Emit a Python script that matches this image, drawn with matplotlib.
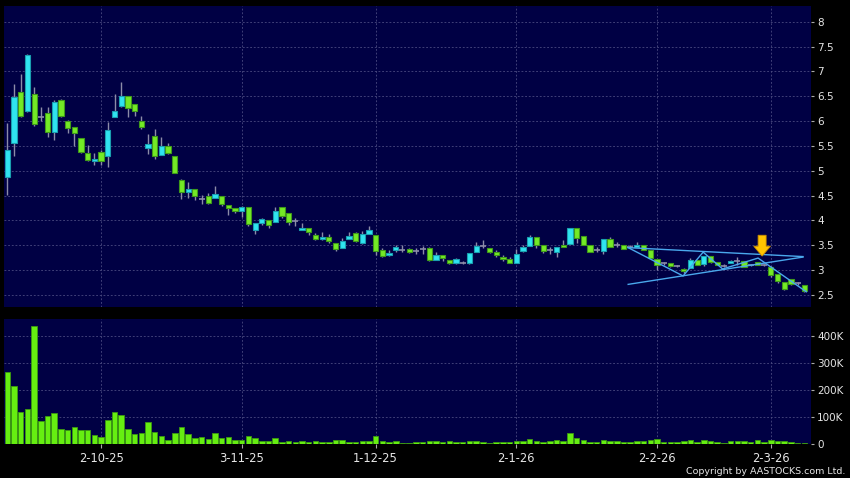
import numpy as np
import matplotlib
matplotlib.use('Agg')
import matplotlib.pyplot as plt
from matplotlib.patches import FancyArrow

# daily candles (oldest first)
opens = [4.87, 5.56, 6.58, 6.21, 6.54, 6.09, 6.16, 5.79, 6.43, 6.00,
         5.88, 5.66, 5.36, 5.19, 5.37, 5.30, 6.09, 6.30, 6.50, 6.34,
         6.01, 5.46, 5.70, 5.32, 5.50, 5.30, 4.81, 4.58, 4.64, 4.44,
         4.50, 4.45, 4.50, 4.31, 4.24, 4.19, 4.27, 3.81, 3.95, 4.01,
         3.97, 4.27, 4.15, 3.98, 3.80, 3.84, 3.71, 3.63, 3.67, 3.55,
         3.44, 3.63, 3.75, 3.55, 3.73, 3.70, 3.40, 3.30, 3.40, 3.40,
         3.42, 3.39, 3.42, 3.44, 3.21, 3.30, 3.20, 3.14, 3.15, 3.14,
         3.36, 3.48, 3.44, 3.36, 3.26, 3.22, 3.15, 3.38, 3.48, 3.67,
         3.50, 3.41, 3.36, 3.50, 3.53, 3.84, 3.68, 3.50, 3.41, 3.39,
         3.63, 3.50, 3.51, 3.46, 3.47, 3.50, 3.40, 3.22, 3.14, 3.14,
         3.09, 3.02, 3.04, 3.20, 3.13, 3.28, 3.17, 3.09, 3.14, 3.18,
         3.18, 3.11, 3.16, 3.10, 3.06, 2.91, 2.75, 2.81, 2.74, 2.70]
highs = [5.96, 6.75, 6.95, 7.36, 6.68, 6.29, 6.28, 6.43, 6.45, 6.03,
         5.89, 5.66, 5.52, 5.36, 5.42, 5.98, 6.54, 6.79, 6.50, 6.34,
         6.10, 5.75, 5.84, 5.68, 5.55, 5.30, 4.84, 4.78, 4.64, 4.52,
         4.55, 4.70, 4.50, 4.31, 4.25, 4.28, 4.27, 3.95, 4.05, 4.01,
         4.27, 4.27, 4.15, 4.05, 3.94, 3.84, 3.75, 3.77, 3.73, 3.55,
         3.64, 3.77, 3.77, 3.78, 3.89, 3.70, 3.44, 3.40, 3.50, 3.50,
         3.44, 3.44, 3.48, 3.46, 3.36, 3.30, 3.20, 3.25, 3.18, 3.34,
         3.57, 3.61, 3.44, 3.41, 3.30, 3.26, 3.42, 3.50, 3.71, 3.67,
         3.50, 3.46, 3.47, 3.60, 3.84, 3.84, 3.68, 3.50, 3.46, 3.63,
         3.67, 3.57, 3.51, 3.50, 3.57, 3.50, 3.40, 3.22, 3.17, 3.15,
         3.11, 3.03, 3.25, 3.20, 3.28, 3.28, 3.17, 3.12, 3.20, 3.26,
         3.18, 3.13, 3.16, 3.12, 3.08, 2.92, 2.75, 2.82, 2.76, 2.70]
lows = [4.52, 5.29, 6.09, 6.19, 5.90, 6.00, 5.68, 5.62, 6.08, 5.77,
        5.49, 5.36, 5.19, 5.11, 5.11, 5.07, 6.09, 6.29, 6.08, 6.11,
        5.84, 5.34, 5.23, 5.32, 5.33, 4.95, 4.44, 4.46, 4.42, 4.32,
        4.32, 4.45, 4.29, 4.10, 4.15, 4.07, 3.88, 3.72, 3.91, 3.84,
        3.97, 4.04, 3.90, 3.88, 3.80, 3.70, 3.60, 3.60, 3.55, 3.38,
        3.44, 3.62, 3.56, 3.53, 3.72, 3.31, 3.27, 3.29, 3.37, 3.37,
        3.34, 3.32, 3.32, 3.19, 3.20, 3.19, 3.12, 3.12, 3.12, 3.12,
        3.36, 3.44, 3.34, 3.27, 3.19, 3.14, 3.15, 3.37, 3.48, 3.44,
        3.34, 3.33, 3.26, 3.46, 3.53, 3.55, 3.51, 3.36, 3.36, 3.32,
        3.47, 3.46, 3.43, 3.44, 3.47, 3.41, 3.24, 3.00, 3.10, 3.06,
        3.06, 2.93, 3.04, 3.10, 3.08, 3.15, 3.10, 3.06, 3.14, 3.11,
        3.05, 3.08, 3.10, 3.08, 2.86, 2.74, 2.60, 2.70, 2.70, 2.55]
closes = [5.41, 6.48, 6.11, 7.33, 5.95, 6.09, 5.78, 6.38, 6.11, 5.86,
          5.76, 5.38, 5.21, 5.23, 5.20, 5.83, 6.20, 6.50, 6.26, 6.20,
          5.88, 5.54, 5.30, 5.50, 5.36, 4.95, 4.57, 4.63, 4.50, 4.44,
          4.35, 4.53, 4.32, 4.25, 4.18, 4.27, 3.93, 3.95, 4.03, 3.91,
          4.19, 4.08, 3.97, 3.98, 3.85, 3.76, 3.63, 3.67, 3.58, 3.42,
          3.59, 3.69, 3.58, 3.73, 3.81, 3.38, 3.28, 3.34, 3.46, 3.40,
          3.37, 3.39, 3.42, 3.20, 3.30, 3.24, 3.14, 3.22, 3.15, 3.34,
          3.48, 3.48, 3.36, 3.30, 3.22, 3.15, 3.32, 3.46, 3.67, 3.50,
          3.38, 3.41, 3.47, 3.47, 3.84, 3.64, 3.51, 3.36, 3.41, 3.63,
          3.47, 3.50, 3.43, 3.46, 3.50, 3.41, 3.24, 3.10, 3.14, 3.08,
          3.09, 2.98, 3.20, 3.11, 3.28, 3.17, 3.11, 3.09, 3.18, 3.18,
          3.06, 3.11, 3.11, 3.10, 2.89, 2.77, 2.62, 2.72, 2.74, 2.57]
volume_k = [265, 215, 117, 127, 437, 83, 101, 112, 56, 52,
            60, 52, 49, 32, 23, 88, 119, 105, 54, 35,
            41, 79, 44, 28, 12, 38, 63, 37, 22, 26,
            19, 40, 22, 26, 12, 12, 28, 20, 9, 9,
            20, 6, 11, 6, 10, 6, 9, 5, 7, 14,
            15, 7, 6, 9, 9, 30, 11, 6, 9, 4,
            4, 6, 6, 10, 10, 5, 11, 7, 5, 9,
            9, 7, 1, 6, 6, 6, 10, 10, 16, 9,
            7, 9, 12, 11, 38, 22, 15, 7, 7, 15,
            9, 9, 7, 6, 9, 11, 14, 17, 5, 5,
            6, 11, 14, 5, 14, 9, 5, 2, 9, 9,
            9, 5, 12, 5, 15, 11, 11, 6, 4, 2]

date_labels = ['2-10-25', '3-11-25', '1-12-25', '2-1-26', '2-2-26', '2-3-26']
date_idx = [14, 35, 55, 76, 97, 114]

# drawn pattern lines (bar index, price)
upper_x, upper_y = [92.7, 118.8], [3.45, 3.27]
lower_x, lower_y = [92.7, 118.8], [2.71, 3.26]
zig_x = [92.7, 100.9, 103.9, 106.8, 112.1, 119.3]
zig_y = [3.45, 2.88, 3.36, 3.02, 3.24, 2.56]
arrow_x, arrow_top, arrow_tip = 112.7, 3.70, 3.28

BG = '#000044'
GRID = '#4a4a80'
UP, UP_EDGE = '#30e4f0', '#1a9fb0'
DOWN, DOWN_EDGE = '#74ea26', '#3f9a1a'
WICK = '#8c8ca8'
TXT = '#e6e6e6'

o = np.array(opens); h = np.array(highs); l = np.array(lows); c = np.array(closes)
x = np.arange(len(o))

fig = plt.figure(figsize=(8.5, 4.78), dpi=100, facecolor='black')
ax = fig.add_axes([4/850, 1 - 306.7/478, 807/850, 300.7/478])
ax2 = fig.add_axes([4/850, 1 - 443.7/478, 807/850, 124.4/478], sharex=ax)

for a in (ax, ax2):
    a.set_facecolor(BG)
    for s in a.spines.values():
        s.set_visible(False)
    a.yaxis.tick_right()
    a.tick_params(axis='y', colors='#aaaaaa', labelcolor=TXT, labelsize=7.5,
                  length=2.5, width=0.8, pad=2)
    a.grid(True, color=GRID, linestyle=(0, (2.2, 2.2)), linewidth=0.6)
    a.set_axisbelow(True)

# wicks
ax.vlines(x, l, h, color=WICK, linewidth=1.0, zorder=2)
up = c > o
dn = c < o
dj = c == o
ax.bar(x[up], (c - o)[up], bottom=o[up], width=0.78, color=UP,
       edgecolor=UP_EDGE, linewidth=0.8, zorder=3)
ax.bar(x[dn], (o - c)[dn], bottom=c[dn], width=0.78, color=DOWN,
       edgecolor=DOWN_EDGE, linewidth=0.8, zorder=3)
ax.hlines(c[dj], x[dj] - 0.45, x[dj] + 0.45, color=WICK, linewidth=1.2, zorder=3)

lc = '#4aa8ec'
ax.plot(upper_x, upper_y, color=lc, lw=1.0, zorder=4)
ax.plot(lower_x, lower_y, color=lc, lw=1.0, zorder=4)
ax.plot(zig_x, zig_y, color=lc, lw=1.0, zorder=4)
ax.add_patch(FancyArrow(arrow_x, arrow_top, 0, arrow_tip - arrow_top,
                        width=1.2, head_width=2.5, head_length=0.2,
                        length_includes_head=True, facecolor='#ffc400',
                        edgecolor='#c88a00', linewidth=0.6, zorder=5))

ax.set_xlim(-0.5, 120)
ax.set_ylim(2.26, 8.32)
ax.set_yticks(np.arange(2.5, 8.01, 0.5))
ax.set_yticklabels(['2.5', '3', '3.5', '4', '4.5', '5', '5.5', '6', '6.5', '7', '7.5', '8'])
ax.tick_params(axis='x', bottom=False, labelbottom=False)

vol = np.array(volume_k) * 1000
ax2.bar(x, vol, width=0.82, color='#66ee11', edgecolor='#3c9a10', linewidth=0.6, zorder=3)
ax2.set_ylim(0, 460000)
ax2.set_yticks([0, 100000, 200000, 300000, 400000])
ax2.set_yticklabels(['0', '100K', '200K', '300K', '400K'])
ax2.set_xticks(date_idx)
ax2.set_xticklabels(date_labels)
ax2.tick_params(axis='x', colors='#aaaaaa', labelcolor=TXT, labelsize=8.3,
                length=3, width=0.8, pad=3)

fig.text(0.994, 1 - 471.7/478, 'Copyright by AASTOCKS.com Ltd.', color=TXT,
         fontsize=6.8, ha='right', va='center')

fig.savefig('out.png', dpi=100, facecolor='black')
